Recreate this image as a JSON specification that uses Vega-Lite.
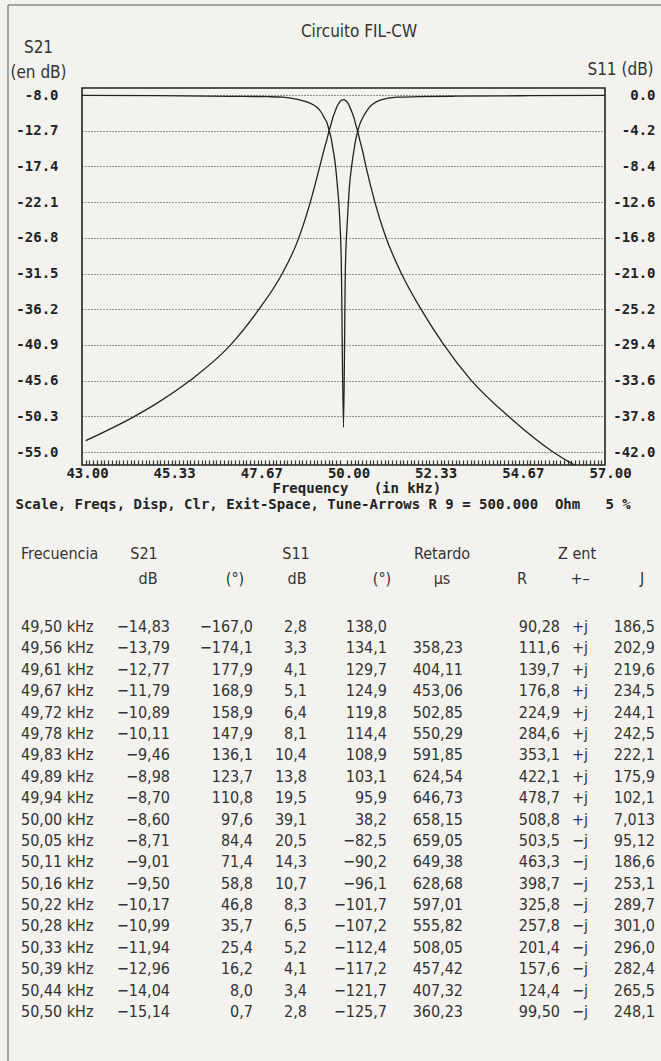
{
  "$schema": "https://vega.github.io/schema/vega-lite/v6.json",
  "width": 523,
  "height": 377,
  "autosize": {"type": "none"},
  "padding": {"left": 82, "top": 88, "right": 56, "bottom": 596},
  "background": "#f3f2ee",
  "config": {
    "view": {"stroke": "#222222", "strokeWidth": 1.6},
    "axis": {"labelOverlap": false, "labelBound": false},
    "text": {"font": "Liberation Sans Narrow, DejaVu Sans Condensed, sans-serif", "fontSize": 16, "color": "#333333"}
  },
  "datasets": {
    "s21": [
      {"f": 43.1, "db": -53.5}, {"f": 44.37, "db": -50.4}, {"f": 45.0, "db": -48.6}, {"f": 45.89, "db": -45.6},
      {"f": 46.96, "db": -41.0}, {"f": 47.71, "db": -36.4}, {"f": 48.35, "db": -31.6},
      {"f": 48.75, "db": -27.5}, {"f": 49.1, "db": -22.3}, {"f": 49.37, "db": -17.3},
      {"f": 49.5, "db": -14.83}, {"f": 49.56, "db": -13.79}, {"f": 49.61, "db": -12.77}, {"f": 49.67, "db": -11.79},
      {"f": 49.72, "db": -10.89}, {"f": 49.78, "db": -10.11}, {"f": 49.83, "db": -9.46}, {"f": 49.89, "db": -8.98},
      {"f": 49.94, "db": -8.7}, {"f": 50.0, "db": -8.6}, {"f": 50.05, "db": -8.71}, {"f": 50.11, "db": -9.01},
      {"f": 50.16, "db": -9.5}, {"f": 50.22, "db": -10.17}, {"f": 50.28, "db": -10.99}, {"f": 50.33, "db": -11.94},
      {"f": 50.39, "db": -12.96}, {"f": 50.44, "db": -14.04}, {"f": 50.5, "db": -15.14},
      {"f": 50.6, "db": -17.4}, {"f": 50.84, "db": -22.1}, {"f": 51.11, "db": -26.4}, {"f": 51.57, "db": -31.7},
      {"f": 52.05, "db": -36.0}, {"f": 52.66, "db": -40.7}, {"f": 53.39, "db": -45.4}, {"f": 54.46, "db": -50.5},
      {"f": 55.61, "db": -55.0}, {"f": 56.14, "db": -56.6}, {"f": 56.6, "db": -57.7}, {"f": 57.0, "db": -58.6}
    ],
    "s11": [
      {"f": 43.0, "db": -0.05}, {"f": 45.0, "db": -0.08}, {"f": 47.0, "db": -0.15}, {"f": 48.0, "db": -0.2},
      {"f": 48.38, "db": -0.26}, {"f": 48.8, "db": -0.55}, {"f": 49.1, "db": -0.95}, {"f": 49.29, "db": -1.45},
      {"f": 49.4, "db": -2.0},
      {"f": 49.5, "db": -2.8}, {"f": 49.56, "db": -3.3}, {"f": 49.61, "db": -4.1}, {"f": 49.67, "db": -5.1},
      {"f": 49.72, "db": -6.4}, {"f": 49.78, "db": -8.1}, {"f": 49.83, "db": -10.4}, {"f": 49.89, "db": -13.8},
      {"f": 49.94, "db": -19.5}, {"f": 50.0, "db": -39.1}, {"f": 50.05, "db": -20.5}, {"f": 50.11, "db": -14.3},
      {"f": 50.16, "db": -10.7}, {"f": 50.22, "db": -8.3}, {"f": 50.28, "db": -6.5}, {"f": 50.33, "db": -5.2},
      {"f": 50.39, "db": -4.1}, {"f": 50.44, "db": -3.4}, {"f": 50.5, "db": -2.8},
      {"f": 50.63, "db": -1.8}, {"f": 50.98, "db": -0.6}, {"f": 51.43, "db": -0.26}, {"f": 52.0, "db": -0.2},
      {"f": 53.0, "db": -0.14}, {"f": 55.0, "db": -0.08}, {"f": 57.0, "db": -0.05}
    ],
    "tab": [
      {"freq": "49,50 kHz", "s21db": "−14,83", "s21ph": "−167,0", "s11db": "2,8", "s11ph": "138,0", "ret": "", "r": "90,28", "sg": "+j", "j": "186,5"},
      {"freq": "49,56 kHz", "s21db": "−13,79", "s21ph": "−174,1", "s11db": "3,3", "s11ph": "134,1", "ret": "358,23", "r": "111,6", "sg": "+j", "j": "202,9"},
      {"freq": "49,61 kHz", "s21db": "−12,77", "s21ph": "177,9", "s11db": "4,1", "s11ph": "129,7", "ret": "404,11", "r": "139,7", "sg": "+j", "j": "219,6"},
      {"freq": "49,67 kHz", "s21db": "−11,79", "s21ph": "168,9", "s11db": "5,1", "s11ph": "124,9", "ret": "453,06", "r": "176,8", "sg": "+j", "j": "234,5"},
      {"freq": "49,72 kHz", "s21db": "−10,89", "s21ph": "158,9", "s11db": "6,4", "s11ph": "119,8", "ret": "502,85", "r": "224,9", "sg": "+j", "j": "244,1"},
      {"freq": "49,78 kHz", "s21db": "−10,11", "s21ph": "147,9", "s11db": "8,1", "s11ph": "114,4", "ret": "550,29", "r": "284,6", "sg": "+j", "j": "242,5"},
      {"freq": "49,83 kHz", "s21db": "−9,46", "s21ph": "136,1", "s11db": "10,4", "s11ph": "108,9", "ret": "591,85", "r": "353,1", "sg": "+j", "j": "222,1"},
      {"freq": "49,89 kHz", "s21db": "−8,98", "s21ph": "123,7", "s11db": "13,8", "s11ph": "103,1", "ret": "624,54", "r": "422,1", "sg": "+j", "j": "175,9"},
      {"freq": "49,94 kHz", "s21db": "−8,70", "s21ph": "110,8", "s11db": "19,5", "s11ph": "95,9", "ret": "646,73", "r": "478,7", "sg": "+j", "j": "102,1"},
      {"freq": "50,00 kHz", "s21db": "−8,60", "s21ph": "97,6", "s11db": "39,1", "s11ph": "38,2", "ret": "658,15", "r": "508,8", "sg": "+j", "j": "7,013"},
      {"freq": "50,05 kHz", "s21db": "−8,71", "s21ph": "84,4", "s11db": "20,5", "s11ph": "−82,5", "ret": "659,05", "r": "503,5", "sg": "−j", "j": "95,12"},
      {"freq": "50,11 kHz", "s21db": "−9,01", "s21ph": "71,4", "s11db": "14,3", "s11ph": "−90,2", "ret": "649,38", "r": "463,3", "sg": "−j", "j": "186,6"},
      {"freq": "50,16 kHz", "s21db": "−9,50", "s21ph": "58,8", "s11db": "10,7", "s11ph": "−96,1", "ret": "628,68", "r": "398,7", "sg": "−j", "j": "253,1"},
      {"freq": "50,22 kHz", "s21db": "−10,17", "s21ph": "46,8", "s11db": "8,3", "s11ph": "−101,7", "ret": "597,01", "r": "325,8", "sg": "−j", "j": "289,7"},
      {"freq": "50,28 kHz", "s21db": "−10,99", "s21ph": "35,7", "s11db": "6,5", "s11ph": "−107,2", "ret": "555,82", "r": "257,8", "sg": "−j", "j": "301,0"},
      {"freq": "50,33 kHz", "s21db": "−11,94", "s21ph": "25,4", "s11db": "5,2", "s11ph": "−112,4", "ret": "508,05", "r": "201,4", "sg": "−j", "j": "296,0"},
      {"freq": "50,39 kHz", "s21db": "−12,96", "s21ph": "16,2", "s11db": "4,1", "s11ph": "−117,2", "ret": "457,42", "r": "157,6", "sg": "−j", "j": "282,4"},
      {"freq": "50,44 kHz", "s21db": "−14,04", "s21ph": "8,0", "s11db": "3,4", "s11ph": "−121,7", "ret": "407,32", "r": "124,4", "sg": "−j", "j": "265,5"},
      {"freq": "50,50 kHz", "s21db": "−15,14", "s21ph": "0,7", "s11db": "2,8", "s11ph": "−125,7", "ret": "360,23", "r": "99,50", "sg": "−j", "j": "248,1"}
    ]
  },
  "layer": [
    {
      "data": {"name": "s21"},
      "mark": {"type": "line", "color": "#222222", "strokeWidth": 1.3, "interpolate": "monotone", "clip": true},
      "encoding": {
        "x": {
          "field": "f", "type": "quantitative",
          "scale": {"domain": [43, 57], "nice": false, "zero": false},
          "axis": {
            "orient": "bottom",
            "values": [43, 45.333, 47.667, 50, 52.333, 54.667, 57],
            "format": ".2f",
            "labelOverlap": false,
            "labelFlush": false,
            "labelOffset": 5,
            "grid": false,
            "domain": false,
            "ticks": false,
            "labelPadding": 1,
            "labelFont": "DejaVu Sans Mono",
            "labelFontWeight": "bold",
            "labelFontSize": 14,
            "labelColor": "#222222",
            "title": "Scale, Freqs, Disp, Clr, Exit-Space, Tune-Arrows R 9 = 500.000\u00a0\u00a0Ohm\u00a0\u00a0\u00a05\u00a0%",
            "titleFont": "DejaVu Sans Mono",
            "titleFontWeight": "bold",
            "titleFontSize": 14,
            "titleColor": "#222222",
            "titleAlign": "left",
            "titleAnchor": "start",
            "titleBaseline": "alphabetic",
            "titleX": -67,
            "titleY": 43
          }
        },
        "y": {
          "field": "db", "type": "quantitative",
          "scale": {"domain": [-56.711, -7.078], "nice": false, "zero": false},
          "axis": {
            "orient": "left",
            "values": [-8, -12.7, -17.4, -22.1, -26.8, -31.5, -36.2, -40.9, -45.6, -50.3, -55],
            "format": ".1f",
            "labelExpr": "replace(datum.label, '−', '-')",
            "grid": true,
            "gridDash": [1, 2],
            "gridColor": "#333333",
            "gridWidth": 1,
            "ticks": false,
            "domain": false,
            "labelPadding": 24,
            "labelFont": "DejaVu Sans Mono",
            "labelFontWeight": "bold",
            "labelFontSize": 14,
            "labelColor": "#222222",
            "labelOverlap": false,
            "title": ["S21", "(en dB)"],
            "titleAngle": 0,
            "titleAlign": "center",
            "titleBaseline": "alphabetic",
            "titleX": -44,
            "titleY": -36,
            "titleLineHeight": 25,
            "titleFont": "Liberation Sans Narrow, DejaVu Sans Condensed, sans-serif",
            "titleFontSize": 17,
            "titleFontWeight": "normal",
            "titleColor": "#333333"
          }
        }
      }
    },
    {
      "data": {"name": "s11"},
      "mark": {"type": "line", "color": "#222222", "strokeWidth": 1.3, "interpolate": "monotone", "clip": true},
      "encoding": {
        "x": {
          "field": "f", "type": "quantitative",
          "axis": {
            "orient": "bottom",
            "values": [43.1, 43.2, 43.3, 43.4, 43.5, 43.6, 43.7, 43.8, 43.9,
              44, 44.1, 44.2, 44.3, 44.4, 44.5, 44.6, 44.7, 44.8, 44.9,
              45, 45.1, 45.2, 45.3, 45.4, 45.5, 45.6, 45.7, 45.8, 45.9,
              46, 46.1, 46.2, 46.3, 46.4, 46.5, 46.6, 46.7, 46.8, 46.9,
              47, 47.1, 47.2, 47.3, 47.4, 47.5, 47.6, 47.7, 47.8, 47.9,
              48, 48.1, 48.2, 48.3, 48.4, 48.5, 48.6, 48.7, 48.8, 48.9,
              49, 49.1, 49.2, 49.3, 49.4, 49.5, 49.6, 49.7, 49.8, 49.9,
              50.1, 50.2, 50.3, 50.4, 50.5, 50.6, 50.7, 50.8, 50.9,
              51, 51.1, 51.2, 51.3, 51.4, 51.5, 51.6, 51.7, 51.8, 51.9,
              52, 52.1, 52.2, 52.3, 52.4, 52.5, 52.6, 52.7, 52.8, 52.9,
              53, 53.1, 53.2, 53.3, 53.4, 53.5, 53.6, 53.7, 53.8, 53.9,
              54, 54.1, 54.2, 54.3, 54.4, 54.5, 54.6, 54.7, 54.8, 54.9,
              55, 55.1, 55.2, 55.3, 55.4, 55.5, 55.6, 55.7, 55.8, 55.9,
              56, 56.1, 56.2, 56.3, 56.4, 56.5, 56.6, 56.7, 56.8, 56.9],
            "labels": false,
            "title": "Frequency\u00a0\u00a0\u00a0(in kHz)",
            "titleFont": "DejaVu Sans Mono",
            "titleFontWeight": "bold",
            "titleFontSize": 14,
            "titleColor": "#222222",
            "titleAlign": "left",
            "titleAnchor": "start",
            "titleBaseline": "alphabetic",
            "titleX": 190,
            "titleY": 32,
            "grid": false,
            "domain": false,
            "ticks": true,
            "tickSize": 5,
            "tickColor": "#333333",
            "tickWidth": 1.2,
            "offset": -5
          }
        },
        "y": {
          "field": "db", "type": "quantitative",
          "scale": {"domain": [-43.529, 0.824], "nice": false, "zero": false},
          "axis": {
            "orient": "right",
            "values": [0, -4.2, -8.4, -12.6, -16.8, -21, -25.2, -29.4, -33.6, -37.8, -42],
            "format": ".1f",
            "labelExpr": "replace(datum.label, '−', '-')",
            "grid": false,
            "ticks": false,
            "domain": false,
            "labelAlign": "right",
            "labelPadding": 50,
            "labelFont": "DejaVu Sans Mono",
            "labelFontWeight": "bold",
            "labelFontSize": 14,
            "labelColor": "#222222",
            "labelOverlap": false,
            "title": "S11 (dB)",
            "titleAngle": 0,
            "titleAlign": "center",
            "titleBaseline": "alphabetic",
            "titleX": 15,
            "titleY": -14,
            "titleFont": "Liberation Sans Narrow, DejaVu Sans Condensed, sans-serif",
            "titleFontSize": 17,
            "titleFontWeight": "normal",
            "titleColor": "#333333"
          }
        }
      }
    },
    {"data": {"values": [{}]}, "mark": {"type": "text", "text": "Circuito FIL-CW", "align": "center", "baseline": "alphabetic", "fontSize": 17}, "encoding": {"x": {"value": 277}, "y": {"value": -51}}},
    {"data": {"values": [{}]}, "mark": {"type": "rule", "color": "#8a8a8a", "strokeWidth": 1.5}, "encoding": {"x": {"value": -74}, "y": {"value": -83}, "y2": {"value": 973}}},
    {"data": {"values": [{}]}, "mark": {"type": "rule", "color": "#8a8a8a", "strokeWidth": 1.5}, "encoding": {"x": {"value": -74}, "x2": {"value": 579}, "y": {"value": -83}}},
    {"data": {"name": "tab"}, "mark": {"type": "text", "align": "left"},
     "encoding": {"x": {"value": -61}, "y": {"field": "freq", "type": "ordinal", "scale": {"type": "point", "range": [539, 924], "padding": 0}, "axis": null}, "text": {"field": "freq"}}},
    {"data": {"name": "tab"}, "mark": {"type": "text", "align": "right"},
     "encoding": {"x": {"value": 88}, "y": {"field": "freq", "type": "ordinal", "scale": {"type": "point", "range": [539, 924], "padding": 0}, "axis": null}, "text": {"field": "s21db"}}},
    {"data": {"name": "tab"}, "mark": {"type": "text", "align": "right"},
     "encoding": {"x": {"value": 171}, "y": {"field": "freq", "type": "ordinal", "scale": {"type": "point", "range": [539, 924], "padding": 0}, "axis": null}, "text": {"field": "s21ph"}}},
    {"data": {"name": "tab"}, "mark": {"type": "text", "align": "right"},
     "encoding": {"x": {"value": 225}, "y": {"field": "freq", "type": "ordinal", "scale": {"type": "point", "range": [539, 924], "padding": 0}, "axis": null}, "text": {"field": "s11db"}}},
    {"data": {"name": "tab"}, "mark": {"type": "text", "align": "right"},
     "encoding": {"x": {"value": 305}, "y": {"field": "freq", "type": "ordinal", "scale": {"type": "point", "range": [539, 924], "padding": 0}, "axis": null}, "text": {"field": "s11ph"}}},
    {"data": {"name": "tab"}, "mark": {"type": "text", "align": "right"},
     "encoding": {"x": {"value": 381}, "y": {"field": "freq", "type": "ordinal", "scale": {"type": "point", "range": [539, 924], "padding": 0}, "axis": null}, "text": {"field": "ret"}}},
    {"data": {"name": "tab"}, "mark": {"type": "text", "align": "right"},
     "encoding": {"x": {"value": 478}, "y": {"field": "freq", "type": "ordinal", "scale": {"type": "point", "range": [539, 924], "padding": 0}, "axis": null}, "text": {"field": "r"}}},
    {"data": {"name": "tab"}, "mark": {"type": "text", "align": "left"},
     "encoding": {"x": {"value": 490}, "y": {"field": "freq", "type": "ordinal", "scale": {"type": "point", "range": [539, 924], "padding": 0}, "axis": null}, "text": {"field": "sg"}}},
    {"data": {"name": "tab"}, "mark": {"type": "text", "align": "right"},
     "encoding": {"x": {"value": 573}, "y": {"field": "freq", "type": "ordinal", "scale": {"type": "point", "range": [539, 924], "padding": 0}, "axis": null}, "text": {"field": "j"}}},
    {"data": {"values": [{}]}, "mark": {"type": "text", "align": "left", "text": "Frecuencia"}, "encoding": {"x": {"value": -61}, "y": {"value": 466}}},
    {"data": {"values": [{}]}, "mark": {"type": "text", "align": "center", "text": "S21"}, "encoding": {"x": {"value": 62}, "y": {"value": 466}}},
    {"data": {"values": [{}]}, "mark": {"type": "text", "align": "center", "text": "dB"}, "encoding": {"x": {"value": 66}, "y": {"value": 491}}},
    {"data": {"values": [{}]}, "mark": {"type": "text", "align": "center", "text": "(°)"}, "encoding": {"x": {"value": 153}, "y": {"value": 491}}},
    {"data": {"values": [{}]}, "mark": {"type": "text", "align": "center", "text": "S11"}, "encoding": {"x": {"value": 214}, "y": {"value": 466}}},
    {"data": {"values": [{}]}, "mark": {"type": "text", "align": "center", "text": "dB"}, "encoding": {"x": {"value": 215}, "y": {"value": 491}}},
    {"data": {"values": [{}]}, "mark": {"type": "text", "align": "center", "text": "(°)"}, "encoding": {"x": {"value": 300}, "y": {"value": 491}}},
    {"data": {"values": [{}]}, "mark": {"type": "text", "align": "center", "text": "Retardo"}, "encoding": {"x": {"value": 360}, "y": {"value": 466}}},
    {"data": {"values": [{}]}, "mark": {"type": "text", "align": "center", "text": "µs"}, "encoding": {"x": {"value": 360}, "y": {"value": 491}}},
    {"data": {"values": [{}]}, "mark": {"type": "text", "align": "center", "text": "R"}, "encoding": {"x": {"value": 440}, "y": {"value": 491}}},
    {"data": {"values": [{}]}, "mark": {"type": "text", "align": "center", "text": "Z ent"}, "encoding": {"x": {"value": 495}, "y": {"value": 466}}},
    {"data": {"values": [{}]}, "mark": {"type": "text", "align": "center", "text": "+–"}, "encoding": {"x": {"value": 498}, "y": {"value": 491}}},
    {"data": {"values": [{}]}, "mark": {"type": "text", "align": "center", "text": "J"}, "encoding": {"x": {"value": 560}, "y": {"value": 491}}}
  ],
  "resolve": {"scale": {"y": "independent"}, "axis": {"x": "independent", "y": "independent"}}
}
